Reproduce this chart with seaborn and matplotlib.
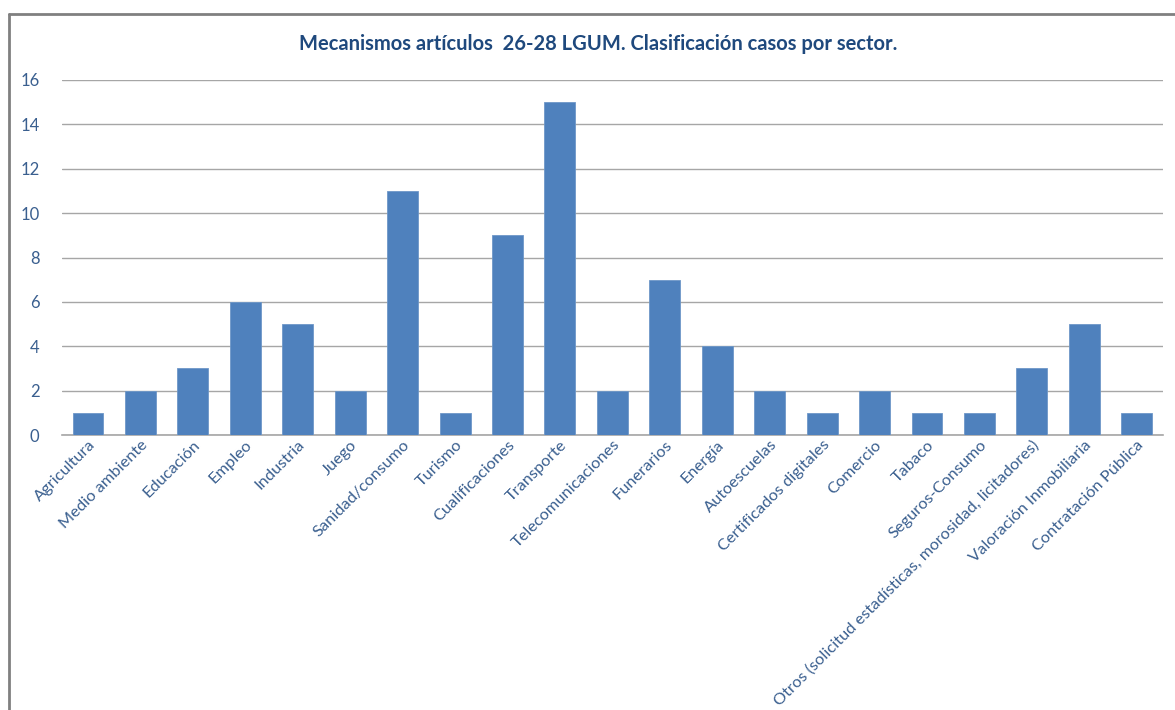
import matplotlib
matplotlib.use('Agg')
from matplotlib import pyplot as plt
from matplotlib.lines import Line2D
import pandas as pd
import seaborn as sns

sns.set_theme(style='white')
plt.rcParams['font.family'] = ['Lato', 'DejaVu Sans']

sectores = [
    'Agricultura', 'Medio ambiente', 'Educación', 'Empleo', 'Industria',
    'Juego', 'Sanidad/consumo', 'Turismo', 'Cualificaciones', 'Transporte',
    'Telecomunicaciones', 'Funerarios', 'Energía', 'Autoescuelas',
    'Certificados digitales', 'Comercio', 'Tabaco', 'Seguros-Consumo',
    'Otros (solicitud estadísticas, morosidad, licitadores)',
    'Valoración Inmobiliaria', 'Contratación Pública',
]
casos = [1, 2, 3, 6, 5, 2, 11, 1, 9, 15, 2, 7, 4, 2, 1, 2, 1, 1, 3, 5, 1]
y_ticks = [0, 2, 4, 6, 8, 10, 12, 14, 16]

title = 'Mecanismos artículos  26-28 LGUM. Clasificación casos por sector.'
bar_color = '#4F81BD'
text_color = '#3A5F8F'

df = pd.DataFrame({'sector': sectores, 'casos': casos})

fig = plt.figure(figsize=(11.75, 7.1), dpi=100)
ax = fig.add_axes([61.8 / 1175, 275 / 710, (1163 - 61.8) / 1175, 355 / 710])

sns.barplot(data=df, x='sector', y='casos', color=bar_color, saturation=1,
            width=0.59, edgecolor='#6E97C8', linewidth=0.6, ax=ax, zorder=3)

ax.set_ylim(0, 16)
ax.set_yticks(y_ticks)
ax.set_xlim(-0.5, len(sectores) - 0.5)
ax.grid(axis='y', color='#A6A6A6', linewidth=1.0, zorder=0)
ax.set_axisbelow(True)
for side in ['top', 'right', 'left']:
    ax.spines[side].set_visible(False)
ax.spines['bottom'].set_color('#A6A6A6')
ax.spines['bottom'].set_linewidth(1.2)
ax.set_xlabel('')
ax.set_ylabel('')

ax.tick_params(axis='y', colors=text_color, labelsize=12, length=0, pad=16)
ax.tick_params(axis='x', colors=text_color, labelsize=11.8, length=0, pad=2)
plt.setp(ax.get_xticklabels(), rotation=45, ha='right', rotation_mode='anchor')

fig.text(598 / 1175, 1 - 44 / 710, title, ha='center', va='center',
         fontsize=14.5, fontweight='bold', color='#1F497D')

# chart frame (left and top edges visible)
fig.add_artist(Line2D([9 / 1175, 9 / 1175], [0, 1 - 14 / 710],
                      transform=fig.transFigure, color='#808080', linewidth=2))
fig.add_artist(Line2D([9 / 1175, 1], [1 - 14 / 710, 1 - 14 / 710],
                      transform=fig.transFigure, color='#808080', linewidth=2))

fig.savefig('out.png', dpi=100, facecolor='white')
